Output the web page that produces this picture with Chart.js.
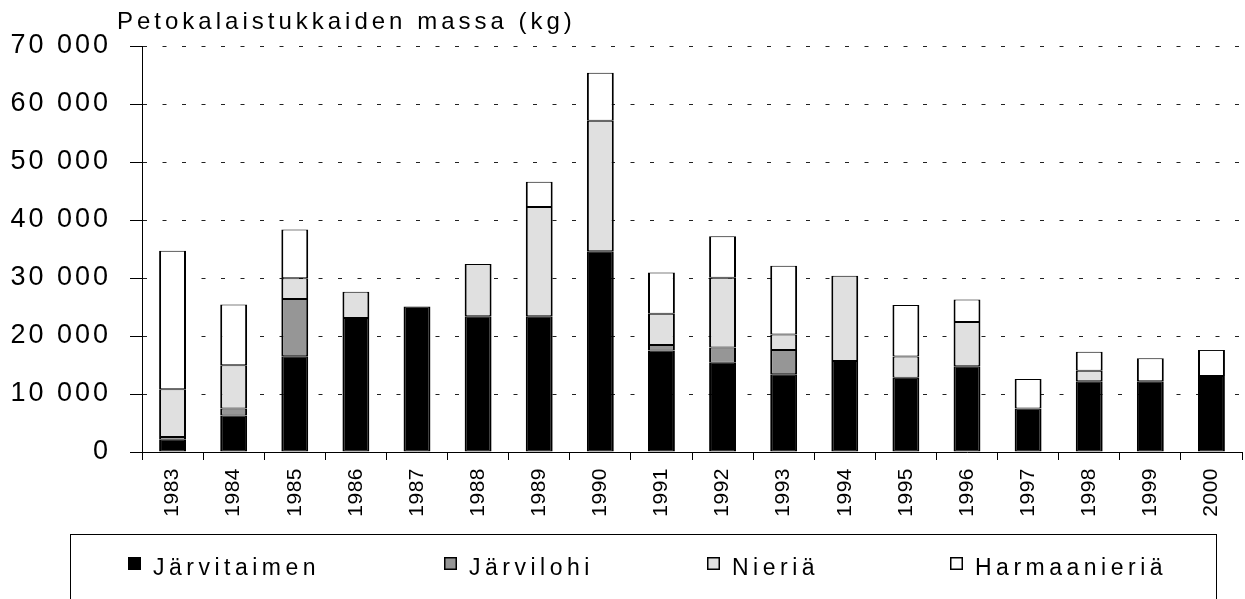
<!DOCTYPE html>
<html><head><meta charset="utf-8">
<script src="https://cdn.jsdelivr.net/npm/chart.js@4.4.1/dist/chart.umd.min.js"></script>
<style>html,body{margin:0;padding:0;background:#fff;overflow:hidden}</style>
</head><body>
<canvas id="c" width="1245" height="599" style="display:block;width:1245px;height:599px"></canvas>
<script>
const years = ['1983','1984','1985','1986','1987','1988','1989','1990','1991','1992','1993','1994','1995','1996','1997','1998','1999','2000'];
const jarvitaimen  = [2100, 6300, 16500, 23100, 25100, 23400, 23400, 34600, 17500, 15400, 13400, 15700, 12800, 14800, 7500, 12200, 12200, 13100];
const jarvilohi    = [500, 1200, 9900, 0, 0, 0, 0, 0, 950, 2600, 4200, 0, 0, 0, 0, 0, 0, 0];
const nieria       = [8200, 7450, 3550, 4550, 0, 9000, 18850, 22500, 5400, 12050, 2650, 14700, 3650, 7600, 0, 1800, 0, 0];
const harmaanieria = [23900, 10500, 8400, 0, 0, 0, 4350, 8300, 7100, 7150, 11850, 0, 8900, 3900, 5100, 3300, 3950, 4500];
const seriesNames = ['Järvitaimen', 'Järvilohi', 'Nieriä', 'Harmaanieriä'];
const yTickValues = [0, 10000, 20000, 30000, 40000, 50000, 60000, 70000];
const titleText = 'Petokalaistukkaiden massa (kg)';

const FONT = "'Liberation Sans', Arial, Helvetica, sans-serif";
const fmt = v => String(v).replace(/\B(?=(\d{3})+(?!\d))/g, ' ');

const segBorder = {top: 1, bottom: 1, left: 2, right: 2};
function ds(label, data, bg, bc) {
  return {label, data, backgroundColor: bg, borderColor: bc, borderWidth: segBorder,
          borderSkipped: false, barPercentage: 0.44, categoryPercentage: 1};
}

// legend layout (positions only)
const LEGEND_X = [128, 444, 707, 950];
const LEGEND_BOX = {x: 70.5, y: 534.5, w: 1146, h: 200};

const spacingPlugin = {
  id: 'spacing',
  beforeLayout(chart) {
    chart.ctx.letterSpacing = '3px';
    const xs = chart.scales.x;
    if (xs && !xs._wrapped) {
      const o = xs.drawLabels;
      xs.drawLabels = function(a) { const c = this.ctx; const p = c.letterSpacing; c.letterSpacing = '0.5px'; o.call(this, a); c.letterSpacing = p; };
      xs._wrapped = true;
    }
    const tb = chart.titleBlock;
    if (tb && !tb._wrapped) {
      const o = tb.draw;
      tb.draw = function(a) { const c = this.ctx; c.save(); c.letterSpacing = '4px'; c.translate(117, 0); o.call(this, a); c.restore(); };
      tb._wrapped = true;
    }
  },
  beforeDraw(chart) { chart.ctx.letterSpacing = '3px'; },
  afterDraw(chart) {
    const c = chart.ctx; c.save();
    c.strokeStyle = '#000'; c.lineWidth = 1;
    c.strokeRect(LEGEND_BOX.x, LEGEND_BOX.y, LEGEND_BOX.w, LEGEND_BOX.h);
    c.font = '23px ' + FONT; c.letterSpacing = '4.5px';
    c.textBaseline = 'alphabetic'; c.textAlign = 'left';
    chart.data.datasets.forEach((d, i) => {
      const x = LEGEND_X[i];
      c.fillStyle = d.backgroundColor;
      c.fillRect(x, 557, 13, 13);
      c.strokeStyle = '#000'; c.lineWidth = 1.5;
      c.strokeRect(x + 0.75, 557.75, 11.5, 11.5);
      c.fillStyle = '#000';
      c.fillText(d.label, x + 25, 575);
    });
    c.restore();
  }
};

new Chart(document.getElementById('c'), {
  type: 'bar',
  data: {
    labels: years,
    datasets: [
      ds(seriesNames[0], jarvitaimen, '#000000', '#000000'),
      ds(seriesNames[1], jarvilohi, '#969696', '#000000'),
      ds(seriesNames[2], nieria, '#e0e0e0', '#000000'),
      ds(seriesNames[3], harmaanieria, '#ffffff', '#000000')
    ]
  },
  options: {
    responsive: false, animation: false, devicePixelRatio: 1,
    layout: {padding: {left: 0, right: 3, top: 0, bottom: 65}},
    scales: {
      x: {
        stacked: true, offset: true,
        grid: {offset: true, drawOnChartArea: false, drawTicks: true, tickLength: 8, tickColor: '#000', color: '#000'},
        border: {display: true, color: '#000', width: 1},
        ticks: {minRotation: 90, maxRotation: 90, autoSkip: false, color: '#000', font: {size: 21, family: FONT}, padding: 8},
        afterFit: s => { s.height = 82; }
      },
      y: {
        stacked: true, min: 0, max: 70000,
        afterBuildTicks: s => { s.ticks = yTickValues.map(v => ({value: v})); },
        grid: {color: '#222', lineWidth: 1, tickLength: 12, tickColor: '#000', tickBorderDash: [], drawTicks: true},
        border: {display: true, color: '#000', width: 1, dash: [4, 15.5]},
        ticks: {color: '#000', font: {size: 27, family: FONT}, padding: 19, callback: v => fmt(v)},
        afterFit: s => { s.width = 142; }
      }
    },
    plugins: {
      tooltip: {enabled: false},
      legend: {display: false},
      title: {display: true, text: titleText, align: 'start', color: '#000',
              font: {size: 24, weight: 'normal', family: FONT}, padding: {top: 8, bottom: 9.2}}
    }
  },
  plugins: [spacingPlugin]
});
</script>
</body></html>
